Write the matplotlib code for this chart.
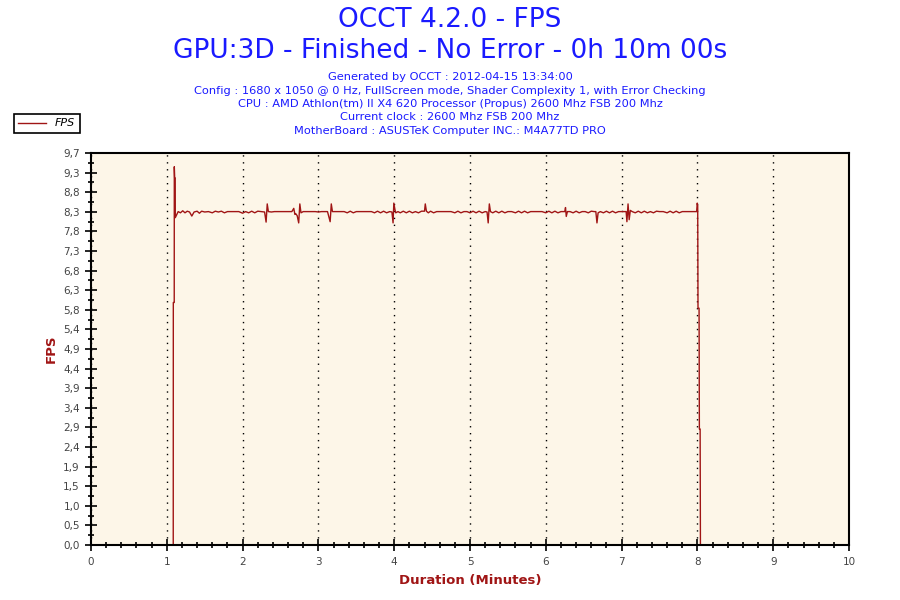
import matplotlib
matplotlib.use('Agg')
from matplotlib import pyplot as plt
from matplotlib.ticker import FixedLocator, MultipleLocator
import numpy as np

# FPS log (time in minutes)
minutes = [0.000, 1.085, 1.086, 1.098, 1.099, 1.104, 1.111, 1.112, 1.125, 1.150,
           1.180, 1.210, 1.240, 1.270, 1.300, 1.330, 1.360, 1.400, 1.430, 1.460,
           1.500, 1.550, 1.600, 1.640, 1.680, 1.720, 1.760, 1.800, 1.850, 1.900,
           1.950, 2.000, 2.040, 2.080, 2.120, 2.160, 2.200, 2.250, 2.290, 2.310,
           2.325, 2.340, 2.380, 2.420, 2.460, 2.500, 2.550, 2.600, 2.650, 2.675,
           2.690, 2.700, 2.720, 2.740, 2.755, 2.770, 2.800, 2.840, 2.880, 2.920,
           2.960, 3.000, 3.040, 3.080, 3.120, 3.155, 3.170, 3.185, 3.220, 3.260,
           3.300, 3.340, 3.380, 3.420, 3.460, 3.500, 3.550, 3.600, 3.650, 3.700,
           3.740, 3.780, 3.820, 3.860, 3.900, 3.940, 3.970, 3.985, 3.995, 4.010,
           4.020, 4.050, 4.080, 4.120, 4.160, 4.200, 4.240, 4.280, 4.320, 4.360,
           4.400, 4.410, 4.425, 4.450, 4.480, 4.520, 4.560, 4.600, 4.650, 4.700,
           4.750, 4.800, 4.840, 4.880, 4.920, 4.960, 5.000, 5.040, 5.080, 5.120,
           5.160, 5.200, 5.225, 5.240, 5.255, 5.270, 5.300, 5.340, 5.380, 5.420,
           5.460, 5.500, 5.550, 5.600, 5.640, 5.680, 5.720, 5.760, 5.800, 5.850,
           5.900, 5.950, 6.000, 6.040, 6.080, 6.120, 6.160, 6.200, 6.250, 6.260,
           6.270, 6.285, 6.320, 6.360, 6.400, 6.440, 6.480, 6.520, 6.560, 6.600,
           6.640, 6.660, 6.675, 6.690, 6.720, 6.760, 6.800, 6.840, 6.880, 6.920,
           6.960, 7.000, 7.040, 7.060, 7.070, 7.085, 7.100, 7.115, 7.140, 7.180,
           7.220, 7.260, 7.300, 7.340, 7.380, 7.420, 7.460, 7.500, 7.550, 7.600,
           7.640, 7.680, 7.720, 7.760, 7.800, 7.850, 7.900, 7.950, 7.990, 7.998,
           8.004, 8.008, 8.022, 8.026, 8.036, 8.040]
fps = [0.00, 0.00, 6.00, 6.00, 9.36, 9.08, 9.08, 8.10, 8.15, 8.25,
       8.22, 8.27, 8.22, 8.26, 8.24, 8.14, 8.24, 8.26, 8.21, 8.26,
       8.24, 8.25, 8.22, 8.26, 8.24, 8.26, 8.22, 8.25, 8.25, 8.25,
       8.25, 8.21, 8.25, 8.22, 8.26, 8.22, 8.26, 8.25, 8.24, 7.99,
       8.44, 8.25, 8.24, 8.25, 8.25, 8.25, 8.25, 8.25, 8.25, 8.33,
       8.18, 8.20, 8.15, 7.97, 8.44, 8.22, 8.25, 8.25, 8.25, 8.25,
       8.25, 8.24, 8.25, 8.25, 8.25, 8.00, 8.44, 8.25, 8.25, 8.25,
       8.25, 8.25, 8.22, 8.26, 8.22, 8.25, 8.25, 8.25, 8.25, 8.25,
       8.22, 8.26, 8.22, 8.26, 8.22, 8.25, 8.24, 7.97, 8.46, 8.30,
       8.22, 8.25, 8.22, 8.26, 8.22, 8.26, 8.22, 8.25, 8.22, 8.26,
       8.26, 8.44, 8.26, 8.22, 8.26, 8.22, 8.25, 8.25, 8.25, 8.25,
       8.25, 8.22, 8.26, 8.22, 8.25, 8.25, 8.22, 8.26, 8.22, 8.26,
       8.22, 8.25, 8.24, 7.97, 8.44, 8.25, 8.22, 8.26, 8.22, 8.26,
       8.22, 8.25, 8.25, 8.22, 8.26, 8.22, 8.26, 8.22, 8.25, 8.25,
       8.25, 8.25, 8.22, 8.26, 8.22, 8.26, 8.22, 8.25, 8.25, 8.35,
       8.13, 8.25, 8.25, 8.22, 8.26, 8.22, 8.25, 8.25, 8.22, 8.26,
       8.25, 8.25, 7.97, 8.22, 8.25, 8.22, 8.26, 8.22, 8.26, 8.22,
       8.25, 8.25, 8.25, 8.25, 8.00, 8.44, 8.05, 8.28, 8.25, 8.22,
       8.26, 8.22, 8.26, 8.22, 8.25, 8.22, 8.26, 8.25, 8.25, 8.22,
       8.26, 8.22, 8.26, 8.22, 8.25, 8.25, 8.25, 8.25, 8.25, 8.46,
       8.40, 5.86, 5.86, 2.87, 2.87, 0.00]

y_ticks = np.linspace(0, 9.7, 21)
y_labels = ['0,0', '0,5', '1,0', '1,5', '1,9', '2,4', '2,9', '3,4', '3,9', '4,4', '4,9',
            '5,4', '5,8', '6,3', '6,8', '7,3', '7,8', '8,3', '8,8', '9,3', '9,7']
x_ticks = list(range(0, 11))

info = ['Generated by OCCT : 2012-04-15 13:34:00',
        'Config : 1680 x 1050 @ 0 Hz, FullScreen mode, Shader Complexity 1, with Error Checking',
        'CPU : AMD Athlon(tm) II X4 620 Processor (Propus) 2600 Mhz FSB 200 Mhz',
        'Current clock : 2600 Mhz FSB 200 Mhz',
        'MotherBoard : ASUSTeK Computer INC.: M4A77TD PRO']

blue = '#1a1aff'
red = '#a01515'

fig = plt.figure(figsize=(9, 6), dpi=100)
ax = fig.add_axes([91 / 900, 55 / 600, 758 / 900, 392 / 600])
ax.set_facecolor('#fdf6e8')

line, = ax.plot(minutes, fps, color=red, linewidth=1.0, label='FPS')

ax.set_xlim(0, 10)
ax.set_ylim(0, 9.7)
ax.xaxis.set_major_locator(FixedLocator(x_ticks))
ax.xaxis.set_minor_locator(MultipleLocator(0.2))
ax.yaxis.set_major_locator(FixedLocator(y_ticks))
ax.yaxis.set_minor_locator(FixedLocator(y_ticks[:-1] + 0.2425))
ax.set_yticklabels(y_labels)
ax.tick_params(which='major', direction='inout', length=9, width=1.2,
               labelsize=7.5, labelcolor='#444444')
ax.tick_params(which='minor', direction='inout', length=5, width=1.2)
ax.tick_params(axis='x', pad=4)

ax.grid(axis='x', which='major', color='black', linestyle=(0, (1, 4)), linewidth=1)
for s in ax.spines.values():
    s.set_linewidth(1.5)
    s.set_color('black')

ax.set_xlabel('Duration (Minutes)', color=red, fontsize=9.5, fontweight='bold', labelpad=5)
ax.set_ylabel('FPS', color=red, fontsize=9.5, fontweight='bold', labelpad=4)

fig.text(0.5, 1 - 20 / 600, 'OCCT 4.2.0 - FPS', color=blue, fontsize=19,
         ha='center', va='center')
fig.text(0.5, 1 - 51 / 600, 'GPU:3D - Finished - No Error - 0h 10m 00s', color=blue,
         fontsize=19, ha='center', va='center')
for i, t in enumerate(info):
    fig.text(0.5, 1 - (77 + 13.5 * i) / 600, t, color=blue, fontsize=8.2,
             ha='center', va='center')

leg = fig.legend(handles=[line], loc='upper left', bbox_to_anchor=(14 / 900, 1 - 114 / 600),
                 fancybox=False, edgecolor='black', framealpha=1,
                 prop={'style': 'italic', 'size': 8}, handlelength=2.5,
                 borderpad=0.4, handletextpad=0.8, borderaxespad=0)
leg.get_frame().set_linewidth(1.2)

plt.savefig('out.png', dpi=100)
